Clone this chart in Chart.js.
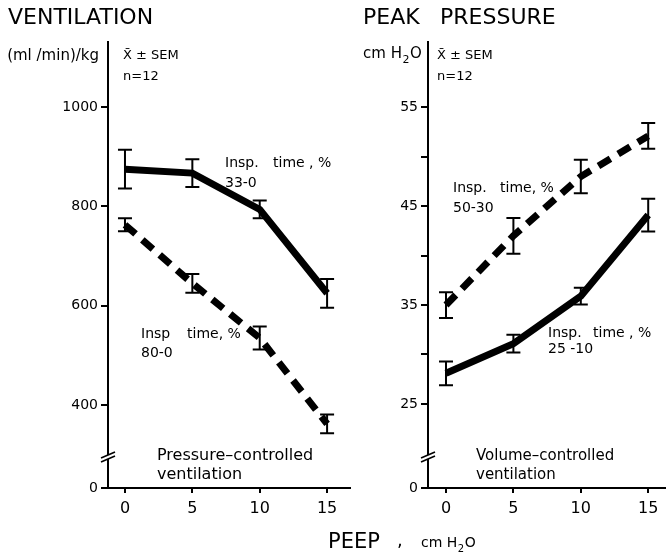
<!DOCTYPE html>
<html>
<head>
<meta charset="utf-8">
<script src="https://cdn.jsdelivr.net/npm/chart.js@4/dist/chart.umd.min.js"></script>
<style>
  html, body { margin: 0; padding: 0; background: #fff; }
  #wrap { position: relative; width: 666px; height: 559px; overflow: hidden; background: #fff; }
  #wrap canvas { position: absolute; left: 0; top: 0; }
</style>
</head>
<body>
<div id="wrap">
  <canvas id="vent" width="666" height="559"></canvas>
  <canvas id="pres" width="666" height="559"></canvas>
</div>
<script>
// PEEP levels, cm H2O
const peep = [0, 5, 10, 15];

// Ventilation, (ml/min)/kg: mean and SEM, n = 12
const ventShortInsp = [875, 867, 794, 625];      // Insp. time 33-0 %
const ventShortInspSem = [39, 28, 18, 29];
const ventLongInsp = [763, 645, 535, 362];       // Insp. time 80-0 %
const ventLongInspSem = [13, 19, 23, 19];

// Peak pressure, cm H2O: mean and SEM, n = 12
const presLongInsp = [35.0, 42.0, 48.0, 52.1];   // Insp. time 50-30 %
const presLongInspSem = [1.3, 1.8, 1.7, 1.3];
const presShortInsp = [28.1, 31.1, 35.9, 44.1];  // Insp. time 25-10 %
const presShortInspSem = [1.2, 0.9, 0.85, 1.65];

// Axis ticks
const peepTicks = [0, 5, 10, 15];
const ventTicks = [400, 600, 800, 1000];
const presTicks = [25, 35, 45, 55];
const presMinorTicks = [30, 40, 50];

// Bottom of each broken y axis (labelled 0)
const ventFloor = 233;
const presFloor = 16.5;

const FONT = "'DejaVu Sans', sans-serif";
Chart.defaults.font.family = FONT;
Chart.defaults.color = '#000';

function put(ctx, str, x, y, size, align) {
  ctx.font = size + 'px ' + FONT;
  ctx.textAlign = align || 'left';
  ctx.textBaseline = 'alphabetic';
  ctx.fillText(str, x, y);
  return ctx.measureText(str).width;
}

// "H2O" with a subscript 2
function putH2O(ctx, prefix, x, y, size) {
  const w = put(ctx, prefix + 'H', x, y, size);
  const w2 = put(ctx, '2', x + w + 0.5, y + size * 0.35, Math.round(size * 0.72));
  put(ctx, 'O', x + w + w2 + 1, y, size);
}

function series(xs, ys) {
  return xs.map((x, i) => ({ x: x, y: ys[i] }));
}

function xScale(min, max) {
  return {
    type: 'linear', min: min, max: max,
    afterBuildTicks: s => { s.ticks = peepTicks.map(v => ({ value: v })); },
    afterFit: s => { s.height = 71; },
    grid: { drawOnChartArea: false, drawTicks: true, tickLength: 5, lineWidth: 2, color: '#000' },
    border: { display: true, color: '#000', width: 2 },
    ticks: { color: '#000', font: { family: FONT, size: 16 }, padding: 6, maxRotation: 0, autoSkip: false }
  };
}

function yScale(min, max, ticks, label, width) {
  return {
    type: 'linear', min: min, max: max,
    afterBuildTicks: s => { s.ticks = ticks.map(v => ({ value: v })); },
    afterFit: s => { s.width = width; },
    grid: { drawOnChartArea: false, drawTicks: true, tickLength: 7, lineWidth: 2, color: '#000' },
    border: { display: true, color: '#000', width: 2 },
    ticks: { color: '#000', font: { family: FONT, size: 14 }, padding: 3, autoSkip: false, callback: label }
  };
}

const solidStyle = { borderColor: '#000', borderWidth: 7, borderJoinStyle: 'miter', pointRadius: 0, tension: 0, fill: false };
const dashedStyle = { borderColor: '#000', borderWidth: 7, borderDash: [14, 9], borderCapStyle: 'butt', borderJoinStyle: 'miter', pointRadius: 0, tension: 0, fill: false };

// Mean ± SEM whiskers
const errorBars = {
  id: 'errorBars',
  afterDatasetsDraw(chart) {
    const ctx = chart.ctx, xs = chart.scales.x, ys = chart.scales.y;
    ctx.save();
    ctx.strokeStyle = '#000';
    ctx.lineWidth = 2;
    chart.data.datasets.forEach(ds => {
      ds.data.forEach((p, i) => {
        const s = ds.sem[i];
        const x = xs.getPixelForValue(p.x);
        const y1 = ys.getPixelForValue(p.y + s);
        const y2 = ys.getPixelForValue(p.y - s);
        ctx.beginPath();
        ctx.moveTo(x, y1); ctx.lineTo(x, y2);
        ctx.moveTo(x - 7, y1); ctx.lineTo(x + 7, y1);
        ctx.moveTo(x - 7, y2); ctx.lineTo(x + 7, y2);
        ctx.stroke();
      });
    });
    ctx.restore();
  }
};

// Double slash marking the interrupted y axis
const axisBreak = {
  id: 'axisBreak',
  afterDraw(chart) {
    const ctx = chart.ctx, a = chart.chartArea;
    const x = a.left, y = a.bottom - 31;
    ctx.save();
    ctx.fillStyle = '#fff';
    ctx.fillRect(x - 2, y - 2, 4, 4);
    ctx.strokeStyle = '#000';
    ctx.lineWidth = 1.6;
    [-2, 2].forEach(d => {
      ctx.beginPath();
      ctx.moveTo(x - 7, y + d + 3);
      ctx.lineTo(x + 7, y + d - 3);
      ctx.stroke();
    });
    ctx.restore();
  }
};

const ventLabels = {
  id: 'ventLabels',
  afterDraw(chart) {
    const ctx = chart.ctx;
    ctx.save();
    ctx.fillStyle = '#000';
    put(ctx, 'VENTILATION', 8, 24, 22);
    put(ctx, '(ml /min)/kg', 99, 60, 15, 'right');
    put(ctx, 'X\u0304 \u00b1 SEM', 123, 59, 13);
    put(ctx, 'n=12', 123, 80, 13);
    put(ctx, 'Insp.', 225, 167, 14);
    put(ctx, 'time , %', 273, 167, 14);
    put(ctx, '33-0', 225, 187, 14);
    put(ctx, 'Insp', 141, 338, 14);
    put(ctx, 'time, %', 187, 338, 14);
    put(ctx, '80-0', 141, 357, 14);
    put(ctx, 'Pressure\u2013controlled', 157, 460, 16);
    put(ctx, 'ventilation', 157, 479, 16);
    // shared x-axis title
    put(ctx, 'PEEP', 328, 548, 21);
    put(ctx, ',', 397, 546, 18);
    putH2O(ctx, 'cm ', 421, 547, 14);
    ctx.restore();
  }
};

const presLabels = {
  id: 'presLabels',
  afterDraw(chart) {
    const ctx = chart.ctx;
    ctx.save();
    ctx.fillStyle = '#000';
    put(ctx, 'PEAK', 363, 24, 22);
    put(ctx, 'PRESSURE', 440, 24, 22);
    putH2O(ctx, 'cm ', 363, 58, 15);
    put(ctx, 'X\u0304 \u00b1 SEM', 437, 59, 13);
    put(ctx, 'n=12', 437, 80, 13);
    put(ctx, 'Insp.', 453, 192, 14);
    put(ctx, 'time, %', 500, 192, 14);
    put(ctx, '50-30', 453, 212, 14);
    put(ctx, 'Insp.', 548, 337, 14);
    put(ctx, 'time , %', 593, 337, 14);
    put(ctx, '25 -10', 548, 353, 14);
    put(ctx, 'Volume\u2013controlled', 476, 460, 15);
    put(ctx, 'ventilation', 476, 479, 15);
    ctx.restore();
  }
};

const common = {
  responsive: false,
  animation: false,
  devicePixelRatio: 1,
  plugins: { legend: { display: false }, tooltip: { enabled: false } }
};

new Chart(document.getElementById('vent'), {
  type: 'line',
  data: {
    datasets: [
      Object.assign({ label: 'Insp. time 33-0 %', data: series(peep, ventShortInsp), sem: ventShortInspSem }, solidStyle),
      Object.assign({ label: 'Insp. time 80-0 %', data: series(peep, ventLongInsp), sem: ventLongInspSem }, dashedStyle)
    ]
  },
  options: Object.assign({}, common, {
    layout: { padding: { top: 42, right: 316, left: 0, bottom: 0 } },
    scales: {
      x: xScale(-1.26, 16.7),
      y: yScale(ventFloor, 1131, [ventFloor].concat(ventTicks),
        v => (v === ventFloor ? '0' : String(v)), 108)
    }
  }),
  plugins: [errorBars, axisBreak, ventLabels]
});

new Chart(document.getElementById('pres'), {
  type: 'line',
  data: {
    datasets: [
      Object.assign({ label: 'Insp. time 50-30 %', data: series(peep, presLongInsp), sem: presLongInspSem }, dashedStyle),
      Object.assign({ label: 'Insp. time 25-10 %', data: series(peep, presShortInsp), sem: presShortInspSem }, solidStyle)
    ]
  },
  options: Object.assign({}, common, {
    layout: { padding: { top: 42, right: 0, left: 350, bottom: 0 } },
    scales: {
      x: xScale(-1.335, 16.32),
      y: yScale(presFloor, 61.6, [presFloor].concat(presTicks, presMinorTicks).sort((a, b) => a - b),
        v => (v === presFloor ? '0' : (presTicks.includes(v) ? String(v) : '')), 78)
    }
  }),
  plugins: [errorBars, axisBreak, presLabels]
});
</script>
</body>
</html>
